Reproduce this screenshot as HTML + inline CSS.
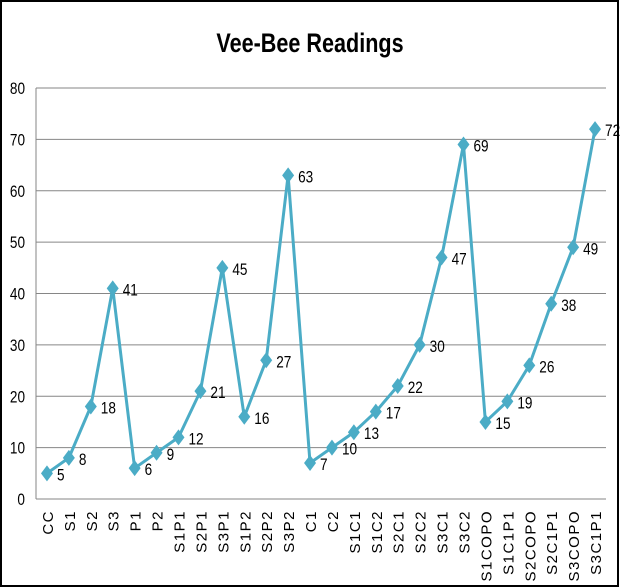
<!DOCTYPE html>
<html><head><meta charset="utf-8"><style>
html,body{margin:0;padding:0;background:#fff}
svg{display:block;font-family:"Liberation Sans",sans-serif}
</style></head><body>
<svg width="620" height="588">
<rect x="1" y="1" width="617" height="585" fill="#fff" stroke="#000" stroke-width="2"/>
<text x="310" y="52" text-anchor="middle" font-size="27" font-weight="bold" transform="translate(310 0) scale(0.8 1) translate(-310 0)">Vee-Bee Readings</text>
<g id="grid"></g><g id="axes"></g><g id="series"></g>
</svg>
<script>
const categories=["CC","S1","S2","S3","P1","P2","S1P1","S2P1","S3P1","S1P2","S2P2","S3P2","C1","C2","S1C1","S1C2","S2C1","S2C2","S3C1","S3C2","S1COPO","S1C1P1","S2COPO","S2C1P1","S3COPO","S3C1P1"];
const values=[5,8,18,41,6,9,12,21,45,16,27,63,7,10,13,17,22,30,47,69,15,19,26,38,49,72];
const yTicks=[0,10,20,30,40,50,60,70,80];
const NS="http://www.w3.org/2000/svg";
const L=36,R=606,T=88,B=499,yMax=80;
const step=(R-L)/categories.length;
const x=i=>L+step*(i+0.5);
const y=v=>B-(B-T)*v/yMax;
function mk(tag,attrs,parent,text){const e=document.createElementNS(NS,tag);for(const k in attrs)e.setAttribute(k,attrs[k]);if(text!=null)e.textContent=text;parent.appendChild(e);return e;}
const grid=document.getElementById('grid'),axes=document.getElementById('axes'),ser=document.getElementById('series');
yTicks.forEach(t=>{
  const ln=mk('line',{x1:L,x2:R,y1:y(t),y2:y(t),stroke:'#868686','stroke-width':1},grid);
  
  
  const tx=mk('text',{x:0,y:0,'text-anchor':'end','font-size':17,transform:`translate(${L-11} ${y(t)+6}) scale(0.8 1)`},axes,String(t));
  
  
});
const ya=mk('line',{x1:L,x2:L,y1:T,y2:B,stroke:'#868686','stroke-width':1},axes);


categories.forEach((c,i)=>{
  const tx=mk('text',{x:0,y:0,'text-anchor':'end','font-size':15,'letter-spacing':'1.5',transform:`translate(${x(i)+6} 510) rotate(-90)`},axes,c);
  
  
});
const pts=values.map((v,i)=>x(i)+','+y(v)).join(' ');
const pl=mk('polyline',{points:pts,fill:'none',stroke:'#4BACC6','stroke-width':3,'stroke-linejoin':'round'},ser);


values.forEach((v,i)=>{
  const cx=x(i),cy=y(v);
  const d=mk('polygon',{points:`${cx},${cy-8} ${cx+6},${cy} ${cx},${cy+8} ${cx-6},${cy}`,fill:'#4BACC6'},ser);
  
  
  const t=mk('text',{x:0,y:0,'font-size':17,transform:`translate(${cx+10} ${cy+7}) scale(0.8 1)`},ser,String(v));
  
  
});
</script>
</body></html>
